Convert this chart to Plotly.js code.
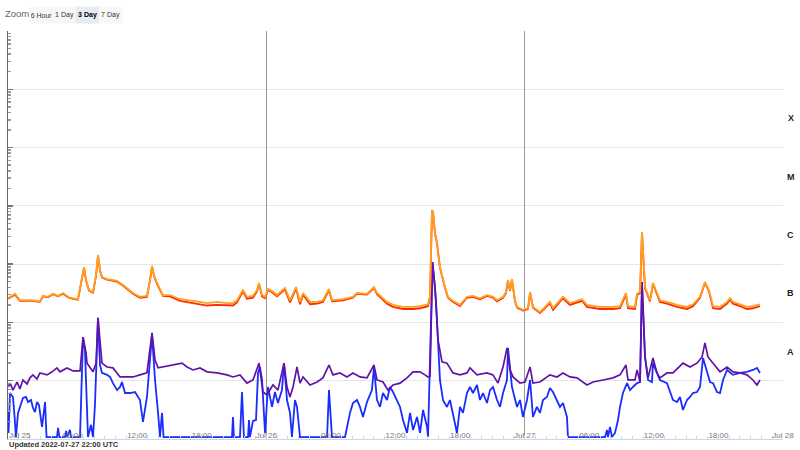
<!DOCTYPE html>
<html>
<head>
<meta charset="utf-8">
<script src="https://cdn.plot.ly/plotly-3.0.1.min.js"></script>
<style>html,body{margin:0;padding:0;background:#fff;}#chart{width:800px;height:450px;}</style>
</head>
<body>
<div id="chart"></div>
<script>
// ---- DATA (hours since 2022-07-25 00:00 UTC, flux W/m^2) ----
const longPrimary = [
[0,2.6e-7],[0.65,3.1e-7],[1.11,2.4e-7],[2.04,2.4e-7],[2.97,2.3e-7],[3.25,2.85e-7],[3.72,2.75e-7],[4.18,3.1e-7],[4.65,2.85e-7],[5.11,3.2e-7],
[5.57,2.75e-7],[5.95,2.6e-7],[6.50,2.5e-7],[6.78,4.4e-7],[7.06,8.9e-7],[7.25,5.35e-7],[7.53,3.6e-7],[7.90,3.33e-7],[8.18,6.5e-7],[8.36,1.44e-6],
[8.55,7.95e-7],[8.73,6.0e-7],[9.20,5.55e-7],[9.66,5.35e-7],[10.13,5.15e-7],[10.68,4.4e-7],[11.06,3.9e-7],[11.61,3.2e-7],[12.26,2.75e-7],[12.91,2.85e-7],
[13.19,5.35e-7],[13.38,9.3e-7],[13.56,6.5e-7],[13.84,4.75e-7],[14.40,2.95e-7],[15.05,2.95e-7],[15.98,2.5e-7],[16.91,2.4e-7],[17.84,2.25e-7],[18.49,2.15e-7],
[19.42,2.25e-7],[20.35,2.15e-7],[20.90,2.15e-7],[21.27,2.4e-7],[21.83,3.6e-7],[22.20,2.75e-7],[22.76,2.85e-7],[23.13,3.6e-7],[23.32,4.75e-7],[23.60,2.95e-7],
[23.88,2.75e-7],[24.15,3.75e-7],[24.53,3.45e-7],[24.99,2.95e-7],[25.73,3.9e-7],[26.20,2.4e-7],[26.76,4.05e-7],[27.13,2.25e-7],[27.41,3.2e-7],[28.06,2.25e-7],
[28.71,2.25e-7],[29.26,2.4e-7],[29.82,3.75e-7],[30.10,2.4e-7],[31.12,2.5e-7],[32.05,2.75e-7],[32.42,3.2e-7],[33.35,3.1e-7],[34.00,4.05e-7],[34.28,3.2e-7],
[35.21,2.25e-7],[35.77,2.0e-7],[36.70,1.85e-7],[37.63,1.85e-7],[38.28,1.9e-7],[39.02,2.05e-7],[39.21,2.85e-7],[39.39,8.5e-6],[39.49,7.9e-6],[39.67,3.43e-6],
[39.86,2.3e-6],[40.13,8.9e-7],[40.41,5.35e-7],[40.60,4.05e-7],[40.88,2.75e-7],[41.25,2.4e-7],[41.99,2.0e-7],[42.64,2.75e-7],[43.20,2.85e-7],[43.85,2.6e-7],
[44.50,2.95e-7],[45.06,2.75e-7],[45.43,2.4e-7],[45.99,2.75e-7],[46.27,3.33e-7],[46.45,5.35e-7],[46.64,3.6e-7],[46.82,5.55e-7],[47.10,2.4e-7],[47.29,1.85e-7],
[47.84,1.65e-7],[48.31,1.77e-7],[48.50,3.33e-7],[48.77,1.85e-7],[49.42,1.5e-7],[50.35,2.25e-7],[50.63,1.77e-7],[51.56,2.75e-7],[52.21,2.15e-7],[53.33,2.5e-7],
[53.79,2.0e-7],[55.00,1.85e-7],[56.21,1.85e-7],[56.86,1.9e-7],[57.41,3.2e-7],[57.60,1.9e-7],[58.25,1.85e-7],[58.44,3.1e-7],[58.72,3.33e-7],[58.90,3.57e-6],
[59.18,4.05e-7],[59.64,2.4e-7],[59.92,4.75e-7],[60.29,3.2e-7],[60.57,2.4e-7],[61.22,2.25e-7],[62.15,2.0e-7],[63.08,1.85e-7],[63.64,2.05e-7],[64.29,2.75e-7],
[64.75,4.95e-7],[65.12,3.6e-7],[65.50,1.9e-7],[66.15,1.85e-7],[66.80,2.25e-7],[67.08,2.6e-7],[67.35,2.25e-7],[68.01,2.05e-7],[68.65,1.85e-7],[69.21,1.9e-7],
[69.86,2.05e-7]
];
const longSecondary = [
[0,2.55e-7],[0.65,3.0e-7],[1.11,2.35e-7],[2.04,2.35e-7],[2.97,2.25e-7],[3.25,2.8e-7],[3.72,2.7e-7],[4.18,3.05e-7],[4.65,2.8e-7],[5.11,3.1e-7],
[5.57,2.7e-7],[5.95,2.55e-7],[6.50,2.45e-7],[6.78,4.3e-7],[7.06,8.7e-7],[7.25,5.2e-7],[7.53,3.5e-7],[7.90,3.25e-7],[8.18,6.3e-7],[8.36,1.4e-6],
[8.55,7.8e-7],[8.73,5.9e-7],[9.20,5.4e-7],[9.66,5.2e-7],[10.13,5.0e-7],[10.68,4.3e-7],[11.06,3.8e-7],[11.61,3.1e-7],[12.26,2.65e-7],[12.91,2.75e-7],
[13.19,5.2e-7],[13.38,9.1e-7],[13.56,6.3e-7],[13.84,4.6e-7],[14.40,2.85e-7],[15.05,2.8e-7],[15.98,2.35e-7],[16.91,2.2e-7],[17.84,2.05e-7],[18.49,1.95e-7],
[19.42,2.0e-7],[20.35,1.95e-7],[20.90,1.95e-7],[21.27,2.2e-7],[21.83,3.4e-7],[22.20,2.55e-7],[22.76,2.65e-7],[23.13,3.4e-7],[23.32,4.6e-7],[23.60,2.8e-7],
[23.88,2.6e-7],[24.15,3.6e-7],[24.53,3.3e-7],[24.99,2.8e-7],[25.73,3.7e-7],[26.20,2.2e-7],[26.76,3.8e-7],[27.13,2.05e-7],[27.41,3.0e-7],[28.06,2.05e-7],
[28.71,2.1e-7],[29.26,2.25e-7],[29.82,3.6e-7],[30.10,2.3e-7],[31.12,2.4e-7],[32.05,2.65e-7],[32.42,3.1e-7],[33.35,3.0e-7],[34.00,3.9e-7],[34.28,3.05e-7],
[35.21,2.1e-7],[35.77,1.85e-7],[36.70,1.7e-7],[37.63,1.7e-7],[38.28,1.75e-7],[39.02,1.9e-7],[39.21,2.7e-7],[39.39,8.3e-6],[39.49,7.7e-6],[39.67,3.35e-6],
[39.86,2.25e-6],[40.13,8.7e-7],[40.41,5.2e-7],[40.60,3.95e-7],[40.88,2.65e-7],[41.25,2.3e-7],[41.99,1.9e-7],[42.64,2.65e-7],[43.20,2.75e-7],[43.85,2.5e-7],
[44.50,2.85e-7],[45.06,2.65e-7],[45.43,2.3e-7],[45.99,2.65e-7],[46.27,3.2e-7],[46.45,5.2e-7],[46.64,3.5e-7],[46.82,5.4e-7],[47.10,2.3e-7],[47.29,1.8e-7],
[47.84,1.6e-7],[48.31,1.7e-7],[48.50,3.2e-7],[48.77,1.8e-7],[49.42,1.45e-7],[50.35,2.15e-7],[50.63,1.65e-7],[51.56,2.6e-7],[52.21,2.0e-7],[53.33,2.35e-7],
[53.79,1.85e-7],[55.00,1.7e-7],[56.21,1.7e-7],[56.86,1.75e-7],[57.41,3.0e-7],[57.60,1.75e-7],[58.25,1.7e-7],[58.44,2.95e-7],[58.72,3.2e-7],[58.90,3.5e-6],
[59.18,3.9e-7],[59.64,2.3e-7],[59.92,4.6e-7],[60.29,3.05e-7],[60.57,2.25e-7],[61.22,2.1e-7],[62.15,1.85e-7],[63.08,1.7e-7],[63.64,1.9e-7],[64.29,2.65e-7],
[64.75,4.8e-7],[65.12,3.45e-7],[65.50,1.75e-7],[66.15,1.7e-7],[66.80,2.1e-7],[67.08,2.45e-7],[67.35,2.1e-7],[68.01,1.9e-7],[68.65,1.7e-7],[69.21,1.75e-7],
[69.86,1.9e-7]
];
const shortPrimary = [
[0,7.8e-9],[0.19,9.1e-9],[0.46,6.9e-9],[0.84,9.5e-9],[1.11,7.2e-9],[1.39,1.03e-8],[1.77,8.8e-9],[2.04,1.12e-8],[2.32,1.26e-8],[2.69,1.07e-8],
[2.97,1.36e-8],[3.62,1.26e-8],[4.09,1.42e-8],[4.55,1.66e-8],[4.83,1.42e-8],[5.48,1.66e-8],[6.04,1.47e-8],[6.69,1.47e-8],[6.97,5.6e-8],[7.25,3.0e-8],
[7.34,2.0e-8],[7.62,1.66e-8],[7.90,1.42e-8],[8.18,2.0e-8],[8.36,1.2e-7],[8.73,2.0e-8],[9.20,1.72e-8],[9.75,1.66e-8],[10.41,1.16e-8],[11.06,1.16e-8],
[11.61,1.16e-8],[12.26,1.26e-8],[12.91,1.36e-8],[13.38,6.6e-8],[13.66,2.27e-8],[13.94,1.66e-8],[14.77,1.79e-8],[15.70,1.93e-8],[16.17,2.0e-8],[16.63,1.72e-8],
[17.19,1.53e-8],[17.84,1.66e-8],[18.49,1.42e-8],[19.42,1.36e-8],[20.35,1.26e-8],[20.90,1.16e-8],[21.55,1.26e-8],[22.20,9.1e-9],[22.76,1.03e-8],[23.32,2.0e-8],
[23.69,6.4e-9],[24.06,5.7e-9],[24.15,6.15e-9],[24.62,8.45e-9],[25.08,6.9e-9],[25.64,2.0e-8],[25.92,7.8e-9],[26.20,5.26e-9],[26.48,7.8e-9],[26.85,1.72e-8],
[27.13,9.1e-9],[27.41,1.16e-8],[28.06,8.45e-9],[28.71,9.5e-9],[29.26,1.12e-8],[29.82,1.86e-8],[30.19,1.26e-8],[30.84,1.36e-8],[31.49,1.16e-8],[32.05,1.36e-8],
[32.70,1.16e-8],[33.35,1.12e-8],[34.00,1.86e-8],[34.28,1.03e-8],[34.84,9.5e-9],[35.30,6.9e-9],[35.77,8.45e-9],[36.42,9.1e-9],[37.07,1.12e-8],[37.63,1.42e-8],
[38.28,1.42e-8],[38.74,1.26e-8],[39.02,1.16e-8],[39.21,1.2e-8],[39.30,7.4e-8],[39.44,1.09e-6],[39.67,4.05e-7],[39.95,5.0e-8],[40.32,2.1e-8],[40.78,2.0e-8],
[41.34,1.36e-8],[41.99,1.26e-8],[42.64,1.36e-8],[42.92,1.66e-8],[43.57,1.26e-8],[44.50,1.36e-8],[45.06,1.26e-8],[45.52,9.1e-9],[45.99,1.72e-8],[46.36,3.65e-8],
[46.64,1.53e-8],[46.92,1.16e-8],[47.57,9.1e-9],[48.03,9.5e-9],[48.50,1.72e-8],[48.77,9.1e-9],[49.42,9.5e-9],[50.35,1.26e-8],[51.00,1.16e-8],[51.56,1.36e-8],
[52.21,1.16e-8],[52.86,1.12e-8],[53.79,8.45e-9],[54.35,9.5e-9],[55.28,1.03e-8],[56.21,1.12e-8],[56.86,1.26e-8],[57.41,1.86e-8],[57.60,1.03e-8],[58.25,1.03e-8],
[58.44,1.53e-8],[58.72,9.5e-9],[58.90,4.95e-7],[59.18,2.56e-8],[59.46,1.12e-8],[59.92,2.45e-8],[60.29,1.36e-8],[60.57,1.12e-8],[61.22,1.36e-8],[61.78,1.36e-8],
[62.71,2.0e-8],[63.36,1.72e-8],[64.01,2.0e-8],[64.48,2.56e-8],[64.75,4.45e-8],[65.03,2.56e-8],[65.50,2.0e-8],[66.15,1.42e-8],[66.80,1.72e-8],[67.35,1.42e-8],
[68.01,1.36e-8],[68.65,1.26e-8],[69.21,1.03e-8],[69.58,8.45e-9],[69.86,1.03e-8]
];
const shortSecondary = [
[0,3.15e-9],[0.05,1.27e-9],[0.19,6.15e-9],[0.46,5.26e-9],[0.60,2.58e-9],[0.74,1.08e-9],[0.93,2.8e-9],[1.21,4.15e-9],[1.39,5.05e-9],[1.67,5.26e-9],
[1.86,4.3e-9],[2.14,4.67e-9],[2.32,3.4e-9],[2.51,2.9e-9],[2.69,4.3e-9],[2.88,3.83e-9],[3.16,1.61e-9],[3.44,4.3e-9],[3.58,1.08e-9],[4.55,1.08e-9],
[4.65,1.55e-9],[4.78,1.08e-9],[5.30,1.08e-9],[5.39,1.38e-9],[5.48,1.08e-9],[5.76,1.43e-9],[5.85,1.08e-9],[6.69,1.08e-9],[6.87,2.27e-8],[6.97,5.6e-8],
[7.15,3.37e-8],[7.34,3.15e-9],[7.43,1.08e-9],[7.71,1.75e-9],[7.90,1.08e-9],[8.08,3.83e-9],[8.36,1.2e-7],[8.55,1.86e-8],[8.73,1.36e-8],[9.20,1.26e-8],
[9.48,1.16e-8],[9.75,9.1e-9],[10.13,6.9e-9],[10.41,7.8e-9],[10.59,9.5e-9],[10.87,6.15e-9],[11.33,6.15e-9],[11.80,6.4e-9],[12.26,4.67e-9],[12.54,1.96e-9],
[12.91,5.26e-9],[13.38,6.1e-8],[13.66,1.03e-8],[13.94,2.8e-9],[14.12,1.08e-9],[14.31,2.8e-9],[14.45,1.08e-9],[20.81,1.08e-9],[20.90,2.39e-9],[20.99,1.08e-9],
[21.55,1.08e-9],[21.74,6.4e-9],[21.92,1.08e-9],[22.30,1.08e-9],[22.39,2.12e-9],[22.48,1.08e-9],[22.76,2.04e-9],[23.04,2.12e-9],[23.23,1.36e-8],[23.41,1.72e-8],
[23.60,1.03e-8],[23.88,1.27e-9],[24.15,7.8e-9],[24.53,3.55e-9],[24.80,6.4e-9],[25.08,4.15e-9],[25.45,6.9e-9],[25.64,2.0e-8],[25.92,4.67e-9],[26.20,2.8e-9],
[26.38,1.08e-9],[26.66,4.67e-9],[26.85,3.55e-9],[27.13,1.08e-9],[29.64,1.08e-9],[29.82,6.9e-9],[30.10,1.08e-9],[31.31,1.08e-9],[31.49,1.61e-9],[31.77,2.8e-9],
[32.05,4.15e-9],[32.42,4.67e-9],[32.70,3.55e-9],[32.98,2.39e-9],[33.35,4.3e-9],[33.81,6.9e-9],[34.00,1.72e-8],[34.28,4.67e-9],[34.56,3.55e-9],[34.84,6.15e-9],
[35.21,4.67e-9],[35.49,7.8e-9],[35.77,6.4e-9],[36.14,4.67e-9],[36.42,3.55e-9],[36.70,2.12e-9],[37.07,1.27e-9],[37.35,2.8e-9],[37.63,1.43e-9],[38.00,2.39e-9],
[38.28,1.27e-9],[38.56,3.15e-9],[38.93,1.61e-9],[39.02,1.08e-9],[39.30,6.6e-8],[39.44,1.09e-6],[39.76,2.4e-7],[40.13,1.03e-8],[40.41,4.67e-9],[40.78,3.55e-9],
[41.06,4.67e-9],[41.34,2.8e-9],[41.71,1.27e-9],[41.99,3.55e-9],[42.27,2.8e-9],[42.64,6.15e-9],[42.92,7.8e-9],[43.20,6.15e-9],[43.57,8.45e-9],[43.85,4.67e-9],
[44.13,6.15e-9],[44.50,4.15e-9],[44.78,6.9e-9],[45.06,7.8e-9],[45.43,4.67e-9],[45.71,3.55e-9],[45.99,6.15e-9],[46.36,1.03e-8],[46.45,3.65e-8],[46.82,7.8e-9],
[47.29,3.55e-9],[47.57,4.67e-9],[47.84,2.39e-9],[48.22,4.67e-9],[48.50,1.03e-8],[48.77,2.39e-9],[49.14,3.55e-9],[49.42,2.8e-9],[49.70,4.67e-9],[50.07,5.26e-9],
[50.35,7.5e-9],[50.63,6.4e-9],[51.00,4.67e-9],[51.28,3.55e-9],[51.56,4.15e-9],[51.93,2.39e-9],[52.02,1.08e-9],[55.46,1.08e-9],[55.65,1.43e-9],[55.74,1.08e-9],
[55.93,1.61e-9],[56.11,1.08e-9],[56.39,1.27e-9],[56.67,2.12e-9],[56.86,3.55e-9],[57.13,6.15e-9],[57.51,9.1e-9],[57.79,6.9e-9],[58.06,7.8e-9],[58.44,9.1e-9],
[58.72,9.5e-9],[58.90,4.95e-7],[59.18,2.56e-8],[59.46,1.03e-8],[59.83,9.5e-9],[59.92,2.0e-8],[60.29,1.36e-8],[60.57,1.03e-8],[61.22,9.1e-9],[61.78,4.67e-9],
[62.15,4.3e-9],[62.43,5.26e-9],[62.71,3.15e-9],[63.08,4.67e-9],[63.36,5.26e-9],[63.64,6.15e-9],[64.01,6.4e-9],[64.29,7.8e-9],[64.57,2.45e-8],[64.94,1.36e-8],
[65.22,9.5e-9],[65.50,9.1e-9],[65.87,6.4e-9],[66.15,6.15e-9],[66.43,1.03e-8],[66.80,1.53e-8],[67.08,1.36e-8],[67.35,1.26e-8],[68.01,1.36e-8],[68.65,1.42e-8],
[69.21,1.53e-8],[69.58,1.66e-8],[69.86,1.36e-8]
];
const tickHours = [0,6,12,18,24,30,36,42,48,54,60,66,72];
const tickLabels = ['Jul 25','06:00','12:00','18:00','Jul 26','06:00','12:00','18:00','Jul 27','06:00','12:00','18:00','Jul 28'];
const dayHours = [24,48];
const classLabels = ['A','B','C','M','X'];
const classThresholds = [1e-8,1e-7,1e-6,1e-5,1e-4];
const zoomButtons = ['6 Hour','1 Day','3 Day','7 Day'];
const activeButton = '3 Day';
const updatedText = 'Updated 2022-07-27 22:00 UTC';

// ---- helpers ----
function toDate(h){
  const ms = Date.UTC(2022,6,25) + Math.round(h*3600000);
  return new Date(ms).toISOString().slice(0,19).replace('T',' ');
}
function mk(series, color, width){
  return {type:'scatter', mode:'lines', x: series.map(p=>toDate(p[0])), y: series.map(p=>p[1]),
    line:{color:color, width:width}, hoverinfo:'skip'};
}
const FONT = 'Liberation Sans, Arial, Helvetica, sans-serif';
const traces = [
  mk(shortSecondary, '#1a2dff', 1.8),
  mk(shortPrimary, '#6212a8', 1.7),
  mk(longSecondary, '#ff2a00', 1.8),
  mk(longPrimary, '#ffa01f', 1.8),
  {type:'scatter', mode:'lines', x:[toDate(0)], y:[1e-9], xaxis:'x2', line:{width:0}, hoverinfo:'skip', showlegend:false}
];
// first tick label is drawn as a left-aligned annotation (kept inside the plot as in the reference)
const ticktext = tickLabels.slice();
ticktext[0] = '';

const annotations = [];
annotations.push({xref:'x', yref:'paper', x:toDate(tickHours[0]), y:0.0075, text:tickLabels[0], showarrow:false,
  xanchor:'left', yanchor:'middle', xshift:-1, font:{family:FONT, size:8, color:'#777'}});
classLabels.forEach((c,i)=>{
  annotations.push({xref:'paper', yref:'y', x:1.0103, y:Math.log10(classThresholds[i])+0.5, text:'<b>'+c+'</b>',
    showarrow:false, xanchor:'center', yanchor:'middle', font:{family:FONT, size:9, color:'#222'}});
});
annotations.push({xref:'paper', yref:'paper', x:0.0116, y:1.0417, text:'Zoom', showarrow:false,
  xanchor:'center', yanchor:'middle', font:{family:FONT, size:9.5, color:'#666'}});
const btnCenters = [0.0432, 0.0729, 0.1026, 0.1323];
zoomButtons.forEach((b,i)=>{
  const act = b===activeButton;
  annotations.push({xref:'paper', yref:'paper', x:btnCenters[i], y:1.038, text: act? '<b>'+b+'</b>' : b,
    showarrow:false, xanchor:'center', yanchor:'middle', width:21, height:14, borderpad:1,
    bgcolor: act? '#e6ebf5' : '#f7f7f7', font:{family:FONT, size:7, color: act? '#000':'#333'}});
});
annotations.push({xref:'paper', yref:'paper', x:-0.001, y:-0.0147, text:'<b>'+updatedText+'</b>', showarrow:false,
  xanchor:'left', yanchor:'middle', font:{family:FONT, size:7.5, color:'#333'}});

const layout = {
  width:800, height:450,
  margin:{l:8, r:17, t:31, b:11, pad:0},
  paper_bgcolor:'#fff', plot_bgcolor:'#fff',
  showlegend:false,
  font:{family:FONT},
  xaxis:{type:'date', range:[toDate(0), toDate(72)], tickmode:'array',
    tickvals: tickHours.map(toDate), ticktext: ticktext,
    ticklabelposition:'inside', ticklabeloverflow:'allow', ticklabelstandoff:-6,
    ticks:'inside', ticklen:4, tickcolor:'#ccd6eb', showgrid:false,
    showline:true, linecolor:'#ccd6eb', linewidth:1, zeroline:false,
    tickfont:{family:FONT, size:8, color:'#777'},
    minor:{tick0:toDate(0), dtick:3600000, ticks:'inside', ticklen:3, tickcolor:'#ccd6eb', showgrid:false}},
  xaxis2:{type:'date', overlaying:'x', range:[toDate(0), toDate(72)], tickmode:'array',
    tickvals: dayHours.map(toDate), showticklabels:false, ticks:'', showgrid:true,
    gridcolor:'#999', gridwidth:1, showline:false, zeroline:false},
  yaxis:{type:'log', range:[-9,-2], dtick:1, showticklabels:false,
    ticks:'inside', ticklen:5, tickcolor:'#777', tickwidth:1.5,
    showgrid:true, gridcolor:'#e6e6e6', gridwidth:1,
    showline:true, linecolor:'#666', linewidth:1, zeroline:false,
    minor:{ticks:'inside', ticklen:3, tickcolor:'#999', showgrid:false}},
  annotations: annotations
};
Plotly.newPlot('chart', traces, layout, {staticPlot:true, displayModeBar:false});
</script>
</body>
</html>
